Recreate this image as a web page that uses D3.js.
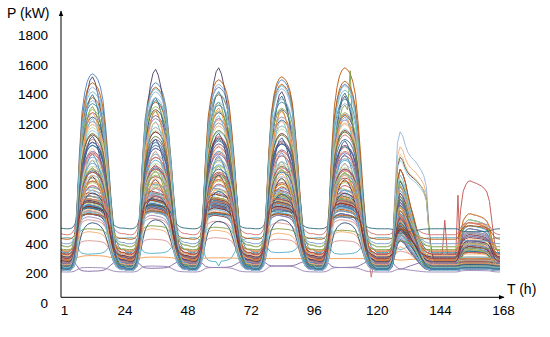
<!DOCTYPE html>
<html><head><meta charset="utf-8">
<script src="https://cdn.jsdelivr.net/npm/d3@7"></script>
<style>
body{margin:0;background:#fff}
svg{display:block}
text{font-family:"Liberation Sans",Arial,sans-serif;fill:#000}
</style>
</head><body>
<svg id="chart" width="550" height="337"></svg>
<script>
// ---------- data ----------
const hours = d3.range(1, 169);
const xTickValues = [1, 24, 48, 72, 96, 120, 144, 168];
const yTickValues = [0, 200, 400, 600, 800, 1000, 1200, 1400, 1600, 1800];

// normalised daily load shapes (hour 0..23 of a day)
const weekdayShapes = [
  [0.02,0,0,0,0.02,0.08,0.28,0.58,0.8,0.9,0.96,0.99,1,0.99,0.97,0.93,0.86,0.72,0.55,0.35,0.18,0.08,0.04,0.02],
  [0.03,0.01,0,0,0.03,0.14,0.45,0.82,0.95,0.98,1,1,0.99,0.98,0.97,0.95,0.91,0.82,0.62,0.4,0.2,0.1,0.05,0.03],
  [0.01,0,0,0,0.01,0.05,0.18,0.42,0.66,0.82,0.92,0.98,1,0.97,0.91,0.83,0.72,0.56,0.38,0.22,0.11,0.05,0.02,0.01]
];
const saturdayShapes = [
  [0,0,0,0,0,0.02,0.12,0.55,0.88,1,0.95,0.86,0.72,0.6,0.5,0.39,0.28,0.17,0.09,0.04,0.02,0,0,0],
  [0,0,0,0,0,0.02,0.12,0.55,0.92,1,0.97,0.9,0.85,0.82,0.8,0.78,0.75,0.72,0.68,0.6,0.3,0.08,0.02,0]
];
const sundayShape = [0,0,0,0,0,0,0,0.12,0.6,0.86,0.95,1,1,0.98,0.97,0.95,0.93,0.9,0.85,0.72,0.42,0.14,0.04,0];

// per building: night base, weekday peaks Mon..Fri, Saturday peak, Sunday peak, weekday shape, Saturday shape
const profiles = [
  [260,1540,1480,1450,1500,1470,760,300,0,0],
  [240,1010,980,1050,1020,990,640,260,0,0],
  [300,700,690,710,680,700,560,420,1,0],
  [285,215,235,240,250,240,230,240,1,0],
  [440,330,335,280,340,330,360,420,1,0],
  [300,320,310,305,300,300,290,290,0,0],
  [230,1250,1300,1280,1230,1260,700,250,0,0],
  [270,660,650,670,640,660,520,380,1,0],
  [250,880,900,860,920,870,620,270,0,0],
  [230,1520,1570,1580,1420,1390,820,250,2,0],
  [330,700,720,690,710,680,600,480,1,0],
  [280,1380,1350,1400,1520,1580,900,300,0,0],
  [220,620,640,630,610,600,450,350,1,0],
  [250,1100,1150,1120,1080,1130,700,260,0,0],
  [290,780,800,760,790,770,600,500,1,0],
  [240,960,930,980,950,940,680,250,2,0],
  [310,680,690,700,670,680,520,450,1,0],
  [260,1200,1180,1230,1190,1210,1050,270,0,1],
  [225,600,620,610,590,600,430,230,1,0],
  [350,820,850,830,810,840,640,520,0,0],
  [270,1320,1290,1350,1300,1330,790,280,2,0],
  [240,650,660,640,670,650,500,400,1,0],
  [280,1060,1040,1020,1070,1050,720,560,0,0],
  [320,720,700,740,730,710,550,470,1,0],
  [230,1450,1420,1470,1440,1460,1150,240,0,1],
  [260,560,570,550,540,560,420,390,1,0],
  [300,920,900,950,930,910,650,310,0,0],
  [250,690,700,680,690,700,540,600,1,0],
  [270,1160,1180,1150,1190,1170,960,280,0,1],
  [290,630,650,620,640,630,480,430,1,0],
  [240,1000,1020,990,1010,1000,660,250,2,0],
  [330,900,920,880,910,890,700,820,0,0],
  [230,840,860,850,830,820,600,240,0,0],
  [260,1280,1260,1240,1300,1270,740,270,0,0],
  [300,650,640,660,650,640,500,520,1,0],
  [250,760,780,770,750,760,580,260,0,0],
  [220,1120,1100,1140,1110,1090,680,230,2,0],
  [280,600,610,590,600,620,460,420,1,0],
  [380,720,740,730,720,700,560,400,1,0],
  [240,680,670,690,700,680,520,380,1,0],
  [270,1400,1380,1420,1390,1410,820,280,2,0],
  [250,620,630,650,640,630,470,360,1,0],
  [300,980,1000,960,990,970,620,460,0,0],
  [230,700,710,690,700,720,520,240,1,0],
  [280,810,790,820,800,810,600,290,0,0],
  [260,1220,1240,1210,1250,1230,900,270,0,0],
  [310,660,680,670,660,650,500,500,1,0],
  [240,480,500,490,470,480,380,250,1,0],
  [220,1060,1080,1100,1070,1050,700,230,0,0],
  [290,740,750,730,760,740,580,540,1,0],
  [250,910,890,920,900,880,640,260,2,0],
  [270,640,660,650,630,640,490,410,1,0],
  [340,1340,1360,1330,1350,1370,780,350,0,0],
  [230,680,690,700,670,690,520,340,1,0],
  [260,860,880,870,850,860,680,270,0,0],
  [300,420,430,440,430,420,350,310,1,0],
  [240,1180,1160,1190,1170,1150,700,250,0,0],
  [280,700,720,710,700,690,560,480,1,0],
  [250,620,610,630,620,640,470,260,1,0],
  [320,1040,1020,1060,1030,1050,760,330,2,0],
  [230,660,670,650,680,660,510,370,1,0],
  [270,790,770,800,780,790,590,280,0,0],
  [260,1300,1320,1290,1310,1280,830,270,0,0],
  [300,600,620,610,630,600,480,450,1,0],
  [240,940,960,930,950,960,660,250,0,0],
  [350,690,700,710,690,700,560,540,1,0],
  [220,540,560,550,560,540,420,230,0,0],
  [280,1130,1150,1110,1140,1160,980,290,0,1],
  [250,720,730,710,740,720,560,260,1,0],
  [290,850,830,860,840,830,620,300,2,0],
  [230,640,650,660,640,650,490,350,1,0],
  [260,1480,1450,1500,1470,1490,900,270,0,0],
  [310,760,740,770,750,760,600,470,1,0],
  [240,1000,980,1010,990,1020,680,250,0,0],
  [270,670,660,680,690,670,520,560,1,0],
  [220,580,590,600,590,580,440,230,1,0],
  [300,1240,1220,1260,1230,1250,760,310,2,0],
  [250,700,690,710,700,680,540,400,1,0],
  [280,890,910,900,880,900,660,290,0,0],
  [240,650,640,660,650,670,500,380,1,0],
  [360,500,520,510,500,490,420,370,1,0],
  [260,1080,1100,1070,1090,1060,740,270,0,0],
  [230,680,700,690,680,700,530,240,1,0],
  [290,820,810,830,800,820,620,600,0,0],
  [250,1360,1380,1350,1370,1340,800,260,0,0],
  [270,620,630,610,640,620,480,420,1,0],
  [240,960,940,970,950,930,1000,250,0,1],
  [300,720,730,740,720,730,560,480,1,0],
  [220,760,780,750,770,760,560,230,2,0],
  [280,1200,1210,1190,1220,1200,720,290,0,0],
  [260,660,650,670,660,650,510,390,1,0],
  [330,880,900,870,890,900,650,340,0,0],
  [240,700,690,710,720,700,540,360,1,0],
  [270,1020,1040,1000,1030,1010,680,500,0,0],
  [230,610,620,600,610,620,460,240,1,0],
  [290,1280,1300,1310,1290,1270,780,300,2,0],
  [250,740,720,750,730,740,570,260,0,0],
  [310,650,660,640,650,670,500,440,1,0],
  [240,1140,1120,1160,1130,1150,720,250,0,0],
  [280,690,700,680,700,690,540,420,1,0],
  [500,640,660,600,620,580,470,480,1,0],
  [430,600,620,610,600,590,500,520,1,0],
  [400,780,800,790,770,760,600,420,0,0],
  [460,700,720,680,700,690,560,540,1,0],
  [380,900,880,920,890,870,650,400,0,0],
  [210,240,250,240,250,240,230,220,1,0],
  [240,1420,1440,1410,1460,1430,860,250,0,0],
  [260,860,840,850,870,860,640,270,2,0],
  [230,1080,1060,1090,1070,1100,700,240,0,0],
  [300,680,690,700,680,670,520,460,1,0]
];

// isolated single-hour readings: [building, hour, kW]
const spikes = [[31,147,557],[1,152,725],[13,119,175],[20,111,1560],[4,61,250]];

const palette = [
  "#4F81BD","#C0504D","#9BBB59","#8064A2","#4BACC6","#F79646",
  "#2C4D75","#772C2A","#5F7530","#4D3B62","#276A7C","#B65708",
  "#729ACA","#CD7371","#AFC97A","#9983B5","#6FBDD1","#F9AB6B",
  "#3A679C","#9F3B38","#7E9D40","#664F83","#3A8DA4","#DF7A1C",
  "#95B3D7","#D99694","#C3D69B","#B2A1C7","#93CDDD","#FAC090"
];

// ---------- build series ----------
const series = profiles.map((p, i) => {
  const [base, d1, d2, d3, d4, d5, sat, sun, ws, ss] = p;
  const wk = [d1, d2, d3, d4, d5];
  const vals = hours.map(t => {
    const d = Math.floor((t - 1) / 24), h = (t - 1) % 24;
    if (d < 5) return base + (wk[d] - base) * weekdayShapes[ws][h];
    if (d === 5) return base + (sat - base) * saturdayShapes[ss][h];
    return base + (sun - base) * sundayShape[h];
  });
  spikes.filter(s => s[0] === i).forEach(s => { vals[s[1] - 1] = s[2]; });
  return vals;
});

// ---------- draw ----------
const svg = d3.select("#chart");
const x = d3.scaleLinear().domain([1, 168]).range([61, 500]);
const y = d3.scaleLinear().domain([0, 1800]).range([303.3, 35]);

const defs = svg.append("defs");
defs.append("marker").attr("id", "arr").attr("viewBox", "0 0 10 10")
  .attr("refX", 9).attr("refY", 5).attr("markerWidth", 6).attr("markerHeight", 6)
  .attr("orient", "auto")
  .append("path").attr("d", "M0,1 L10,5 L0,9 Z").attr("fill", "#000");

const line = d3.line().x((d, i) => x(hours[i])).y(d => y(d));
svg.append("g").selectAll("path").data(series).join("path")
  .attr("d", line)
  .attr("fill", "none")
  .attr("stroke", (d, i) => palette[i % palette.length])
  .attr("stroke-width", 1)
  .attr("stroke-opacity", 0.9);

// axes lines with arrows
const axisY0 = y(0) - 6;
svg.append("line").attr("x1", x(1)).attr("x2", x(1)).attr("y1", axisY0).attr("y2", 11)
  .attr("stroke", "#000").attr("stroke-width", 1).attr("marker-end", "url(#arr)");
svg.append("line").attr("x1", x(1)).attr("x2", 504).attr("y1", axisY0).attr("y2", axisY0)
  .attr("stroke", "#000").attr("stroke-width", 1).attr("marker-end", "url(#arr)");

// tick labels
const yAxis = svg.append("g").attr("transform", `translate(${x(1)},0)`)
  .call(d3.axisLeft(y).tickValues(yTickValues).tickFormat(d3.format("d")).tickSize(0).tickPadding(13));
yAxis.select(".domain").remove();
yAxis.selectAll("text").attr("font-size", 13.5).attr("font-family", "Liberation Sans, Arial, sans-serif").attr("fill", "#000");

const xAxis = svg.append("g").attr("transform", `translate(3,${axisY0})`)
  .call(d3.axisBottom(x).tickValues(xTickValues).tickFormat(d3.format("d")).tickSize(0).tickPadding(8));
xAxis.select(".domain").remove();
xAxis.selectAll("text").attr("font-size", 13.5).attr("font-family", "Liberation Sans, Arial, sans-serif").attr("fill", "#000");

// axis titles
svg.append("text").attr("x", 7).attr("y", 18).attr("font-size", 14).text("P (kW)");
svg.append("text").attr("x", 507).attr("y", 294).attr("font-size", 14).text("T (h)");
</script>
</body></html>
